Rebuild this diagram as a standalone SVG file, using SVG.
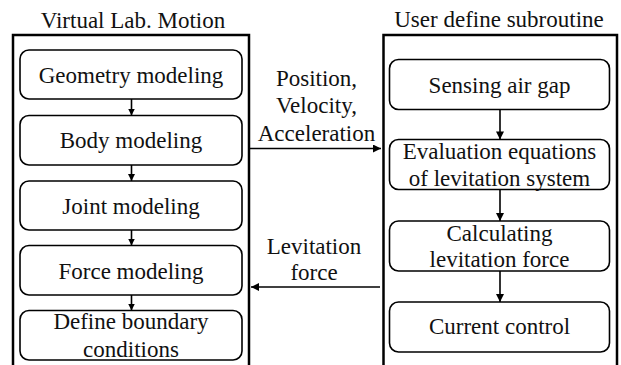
<svg xmlns="http://www.w3.org/2000/svg" width="621" height="365" viewBox="0 0 621 365">
<defs>
<style>
text{font-family:"Liberation Serif","Times New Roman",serif;font-size:23px;fill:#111;text-anchor:middle}
.outer{fill:none;stroke:#000;stroke-width:2.5}
.box{fill:#fff;stroke:#000;stroke-width:1.6}
.conn{stroke:#000;stroke-width:1.6;fill:none}
</style>
<marker id="ah" viewBox="0 0 10 10" refX="10" refY="5" markerWidth="7" markerHeight="7" markerUnits="userSpaceOnUse" orient="auto">
<path d="M0,0 L10,5 L0,10 z" fill="#000"/>
</marker>
<marker id="ahl" viewBox="0 0 10 10" refX="10" refY="5" markerWidth="9" markerHeight="8" markerUnits="userSpaceOnUse" orient="auto">
<path d="M0,0 L10,5 L0,10 z" fill="#000"/>
</marker>
</defs>
<rect width="621" height="365" fill="#fff"/>
<g id="left-panel">
<text x="133" y="28">Virtual Lab. Motion</text>
<path class="outer" d="M13,367 V35 H249 V367"/>
</g>
<g id="right-panel">
<text x="499" y="27">User define subroutine</text>
<path class="outer" d="M383.5,367 V35 H617 V367"/>
</g>
<g id="geometry"><rect class="box" x="20" y="50" width="222" height="49" rx="9"/><text x="131" y="82.5">Geometry modeling</text></g>
<g id="body"><rect class="box" x="20" y="115.5" width="222" height="49.5" rx="9"/><text x="131" y="148">Body modeling</text></g>
<g id="joint"><rect class="box" x="20" y="181" width="222" height="49" rx="9"/><text x="131" y="213.5">Joint modeling</text></g>
<g id="force"><rect class="box" x="20" y="245.5" width="222" height="49.5" rx="9"/><text x="131" y="278.5">Force modeling</text></g>
<g id="boundary"><rect class="box" x="20" y="310.5" width="222" height="49.5" rx="9"/><text x="131" y="328.5">Define boundary</text><text x="131" y="357">conditions</text></g>
<g id="sensing"><rect class="box" x="389.5" y="59.5" width="220" height="50" rx="9"/><text x="499.5" y="93">Sensing air gap</text></g>
<g id="evaluation"><rect class="box" x="389.5" y="139.5" width="220" height="50" rx="9"/><text x="499.5" y="158.5">Evaluation equations</text><text x="499.5" y="185.5">of levitation system</text></g>
<g id="calculating"><rect class="box" x="389.5" y="221" width="220" height="50" rx="9"/><text x="499.5" y="240.5">Calculating</text><text x="499.5" y="267">levitation force</text></g>
<g id="current"><rect class="box" x="389.5" y="302" width="220" height="50" rx="9"/><text x="499.5" y="333.5">Current control</text></g>
<g id="connectors">
<line class="conn" x1="131.5" y1="99" x2="131.5" y2="115.5" marker-end="url(#ah)"/>
<line class="conn" x1="131.5" y1="165" x2="131.5" y2="181" marker-end="url(#ah)"/>
<line class="conn" x1="131.5" y1="230" x2="131.5" y2="245.5" marker-end="url(#ah)"/>
<line class="conn" x1="131.5" y1="295" x2="131.5" y2="310.5" marker-end="url(#ah)"/>
<line class="conn" x1="500" y1="109.5" x2="500" y2="139.5" marker-end="url(#ahl)"/>
<line class="conn" x1="500" y1="189.5" x2="500" y2="221" marker-end="url(#ahl)"/>
<line class="conn" x1="500" y1="271" x2="500" y2="302" marker-end="url(#ahl)"/>
<line class="conn" x1="250" y1="148.5" x2="381" y2="148.5" marker-end="url(#ahl)"/>
<line class="conn" x1="380" y1="287" x2="251" y2="287" marker-end="url(#ahl)"/>
<text x="316.5" y="86">Position,</text>
<text x="316.5" y="113">Velocity,</text>
<text x="316.5" y="140.5">Acceleration</text>
<text x="314" y="253.5">Levitation</text>
<text x="314" y="280">force</text>
</g>
</svg>
